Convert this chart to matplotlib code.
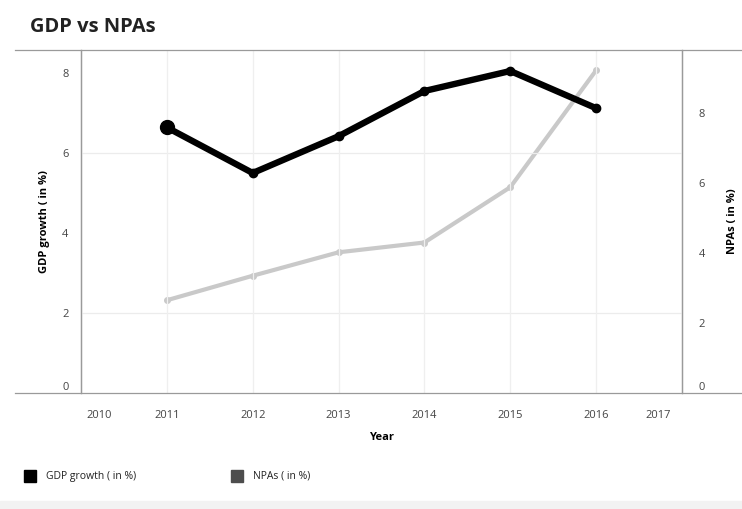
import matplotlib
matplotlib.use("Agg")
import matplotlib.pyplot as plt
from matplotlib.lines import Line2D
from matplotlib.patches import Rectangle

plt.rcParams['font.family'] = ['Open Sans', 'DejaVu Sans']

# Data
years = [2011, 2012, 2013, 2014, 2015, 2016]
gdp_growth = [6.64, 5.5, 6.42, 7.55, 8.05, 7.12]
npas = [2.65, 3.35, 4.02, 4.3, 5.88, 9.22]
year_ticks = [2010, 2011, 2012, 2013, 2014, 2015, 2016, 2017]
left_ticks = [0, 2, 4, 6, 8]
right_ticks = [0, 2, 4, 6, 8]

W, H = 742, 509
fig = plt.figure(figsize=(W / 100, H / 100), dpi=100)

x0, x1, y0, y1 = 81, 682, 393, 50
ax = fig.add_axes([x0 / W, 1 - y0 / H, (x1 - x0) / W, (y0 - y1) / H])
ax2 = ax.twinx()

ax.set_xlim(2010, 2017)
ax.set_ylim(0, 8.575)
ax2.set_ylim(0, 9.8)

# grid
for yv in [2, 6]:
    ax.axhline(yv, color='#ececec', lw=0.9, zorder=0)
for xv in years:
    ax.axvline(xv, color='#efefef', lw=0.9, zorder=0)

# series
ax2.plot(years, npas, color='#c9c9c9', lw=3.0, marker='o', ms=4,
         solid_capstyle='round', zorder=2)
ax.plot(years, gdp_growth, color='#000000', lw=4.6, marker='o', ms=6,
        solid_joinstyle='round', zorder=3)
ax.plot(years[:1], gdp_growth[:1], 'o', color='#000000', ms=10, zorder=4)
ax.set_zorder(ax2.get_zorder() + 1)
ax.patch.set_visible(False)

# spines
for a in (ax, ax2):
    for s in ('top', 'bottom'):
        a.spines[s].set_visible(False)
    a.spines['left'].set_color('#9a9a9a')
    a.spines['right'].set_color('#9a9a9a')
    a.spines['left'].set_linewidth(0.9)
    a.spines['right'].set_linewidth(0.9)

# full-width horizontal rules at top and bottom of plot area
for yp in (y0, y1):
    fig.add_artist(Line2D([15 / W, 1.0], [1 - yp / H, 1 - yp / H],
                          color='#9a9a9a', lw=0.9))

# ticks
ax.set_yticks(left_ticks)
ax.set_yticklabels([str(t) for t in left_ticks])
ax2.set_yticks(right_ticks)
ax2.set_yticklabels([str(t) for t in right_ticks])
ax.tick_params(axis='y', length=0, pad=9, labelsize=8, labelcolor='#444444')
ax2.tick_params(axis='y', length=0, pad=12, labelsize=8, labelcolor='#444444')
ax.get_yticklabels()[0].set_verticalalignment('bottom')
ax2.get_yticklabels()[0].set_verticalalignment('bottom')
ax.set_xticks(year_ticks)
ax.set_xticklabels([str(t) for t in year_ticks])
ax.tick_params(axis='x', length=0, pad=12, labelsize=8, labelcolor='#444444')
xl = ax.get_xticklabels()
xl[0].set_horizontalalignment('left')
xl[-1].set_horizontalalignment('right')
# nudge the edge year labels inward
import matplotlib.transforms as mtransforms
xl[0].set_transform(xl[0].get_transform() +
                    mtransforms.ScaledTranslation(5 / 100, 0, fig.dpi_scale_trans))
xl[-1].set_transform(xl[-1].get_transform() +
                     mtransforms.ScaledTranslation(-11 / 100, 0, fig.dpi_scale_trans))

# axis titles
ax.set_xlabel('Year', fontsize=8, fontweight='bold', labelpad=8)
ax.set_ylabel('GDP growth ( in %)', fontsize=8, fontweight='bold', labelpad=9)
ax2.set_ylabel('NPAs ( in %)', fontsize=8, fontweight='bold', labelpad=16)

# title
fig.text(30 / W, 1 - 27 / H, 'GDP vs NPAs', fontsize=14.5, fontweight='bold',
         va='center', ha='left', color='#222222')

# legend
sq = 12
for xs, col, label in [(24, '#000000', 'GDP growth ( in %)'),
                       (231, '#4d4d4d', 'NPAs ( in %)')]:
    fig.add_artist(Rectangle((xs / W, 1 - (476 + sq / 2) / H), sq / W, sq / H,
                             color=col, transform=fig.transFigure))
    fig.text((xs + sq + 10) / W, 1 - 476 / H, label, fontsize=7.5,
             va='center', ha='left', color='#222222')

# light band at bottom
fig.add_artist(Rectangle((0, 0), 1, 8 / H, color='#f2f2f2',
                         transform=fig.transFigure, zorder=0))

fig.savefig('out.png', dpi=100)
